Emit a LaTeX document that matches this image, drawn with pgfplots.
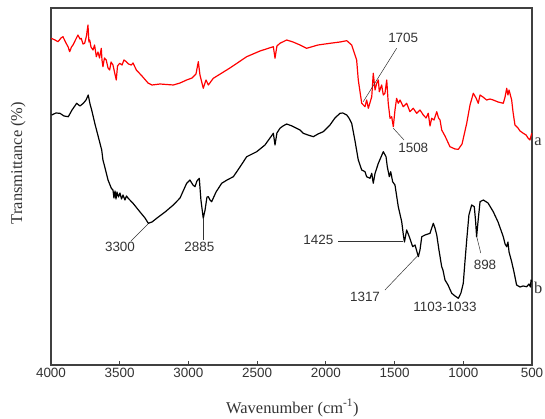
\documentclass[border=0pt]{standalone}
\usepackage{fontspec}
\setmainfont{Liberation Serif}
\setsansfont{Liberation Sans}
\usepackage{pgfplots}
\pgfplotsset{compat=1.18}
\definecolor{axgray}{HTML}{404040}
\definecolor{anngray}{HTML}{333333}
\begin{document}
\begin{tikzpicture}
\path[use as bounding box] (-51bp,-54bp) rectangle (494bp,365bp);
\begin{axis}[
  scale only axis, width=481bp, height=357bp,
  at={(0,0)}, anchor=south west,
  x dir=reverse, xmin=500, xmax=4000, ymin=-365, ymax=-8,
  xtick={500,1000,...,4000}, ytick=\empty,
  tick align=inside, major tick length=4bp,
  xtick pos=bottom,
  axis line style={axgray, line width=1.1pt},
  every tick/.style={axgray, line width=0.9pt},
  /pgf/number format/assume math mode=true,
  /pgf/number format/set thousands separator={},
  xticklabel style={font=\sffamily\fontsize{13.5}{14}\selectfont, text=anngray},
  xlabel={Wavenumber (cm\textsuperscript{-1})},
  ylabel={Transmittance (\%)},
  xlabel style={at={(axis description cs:0.502,-0.12)}, anchor=center, font=\fontsize{16.5}{18}\selectfont, text=anngray},
  ylabel style={at={(axis description cs:-0.068,0.566)}, anchor=center, font=\fontsize{16.5}{18}\selectfont, text=anngray},
  clip=false,
]
% red curve (a)
\addplot[red, line width=1.2pt, line join=round] coordinates {
(3998,-38.3)(3971,-40)(3949,-41.7)(3927,-38)(3913,-36.7)(3891,-43)(3876,-46.7)(3864,-51.7)(3851,-47)(3840,-45)(3822,-40)(3804,-35)(3789,-39)(3780,-38.3)(3767,-44)(3755,-43.3)(3742,-36)(3731,-25)(3724,-42)(3718,-40)(3709,-47)(3694,-50)(3683,-45)(3670,-56.7)(3658,-52)(3647,-58)(3634,-48.3)(3629,-60)(3622,-66.7)(3611,-58)(3598,-60)(3585,-68)(3573,-70)(3563,-62)(3549,-65)(3538,-72)(3525,-80)(3516,-66)(3500,-63.3)(3483,-65)(3469,-60)(3452,-61.7)(3436,-64)(3416,-65)(3403,-63)(3379,-70)(3338,-76)(3294,-83)(3265,-85)(3207,-84)(3110,-85)(3061,-83)(3013,-80)(2974,-78)(2945,-74)(2928,-61.7)(2916,-75)(2892,-88.3)(2872,-80)(2855,-85)(2819,-78.3)(2698,-68)(2576,-56.7)(2479,-51)(2382,-46.7)(2370,-58.3)(2356,-46)(2334,-43.3)(2285,-40)(2239,-42)(2188,-45)(2140,-48.3)(2057,-45)(1970,-43.3)(1897,-42)(1848,-40.7)(1812,-45)(1776,-60)(1764,-80)(1739,-103.3)(1715,-106.7)(1703,-100)(1691,-108.3)(1666,-96.7)(1655,-73.3)(1642,-90)(1630,-83.3)(1618,-80)(1611,-91.7)(1594,-85)(1582,-95)(1570,-93.3)(1557,-80)(1546,-103.3)(1533,-118.3)(1521,-116.7)(1509,-126.7)(1497,-110)(1485,-98.3)(1473,-103.3)(1460,-100)(1437,-106.7)(1412,-103.3)(1388,-111.7)(1364,-108.3)(1339,-113.3)(1315,-110)(1291,-115)(1271,-118)(1255,-113.3)(1242,-126)(1230,-118.3)(1213,-120)(1193,-111.7)(1180,-118)(1169,-120)(1157,-130)(1133,-136)(1097,-146.7)(1060,-149)(1036,-149.3)(1009,-144)(975,-123.3)(951,-105)(927,-93.3)(907,-98)(891,-103.3)(878,-95)(857,-97)(830,-100)(806,-99)(782,-100)(747,-102)(709,-103.3)(696,-97)(684,-88.3)(675,-95)(667,-90)(648,-100)(638,-112)(624,-125)(602,-128)(587,-131)(563,-133.3)(543,-135)(529,-138)(515,-140)(507,-136)(502,-133.3)
};
% black curve (b)
\addplot[black, line width=1.2pt, line join=round] coordinates {
(3995,-115)(3964,-113)(3935,-113.3)(3905,-116)(3874,-116.7)(3847,-110)(3813,-103.3)(3789,-106)(3765,-103.3)(3745,-100)(3729,-95)(3716,-104)(3704,-110)(3680,-124)(3656,-136.7)(3631,-150)(3622,-160)(3609,-166.7)(3585,-180)(3561,-188.3)(3549,-190)(3542,-198)(3534,-191)(3527,-199)(3520,-192)(3509,-197)(3498,-193)(3487,-199)(3476,-195)(3462,-200)(3451,-196)(3438,-198.3)(3403,-203.3)(3352,-212)(3316,-218)(3292,-223.3)(3265,-222)(3231,-218.3)(3170,-212)(3110,-205)(3061,-198)(3013,-183.3)(2989,-180)(2967,-185)(2952,-186.7)(2938,-181)(2921,-178.3)(2909,-200)(2892,-218.3)(2879,-210)(2865,-197)(2855,-196.7)(2843,-200)(2831,-201.7)(2799,-192)(2758,-183.3)(2719,-180)(2673,-176.7)(2625,-167)(2576,-156.7)(2503,-151.7)(2443,-145)(2382,-133.3)(2370,-145)(2356,-133)(2334,-128.3)(2312,-126)(2285,-124)(2246,-126)(2217,-128)(2188,-130)(2164,-133.3)(2130,-135)(2091,-136.7)(2057,-134)(2019,-131.7)(1970,-125)(1934,-118)(1897,-113.3)(1876,-113)(1848,-115)(1832,-118)(1812,-123.3)(1789,-140)(1764,-160)(1739,-170)(1715,-171.7)(1703,-176.7)(1679,-178.3)(1666,-173.3)(1655,-183.3)(1642,-173.3)(1618,-163.3)(1582,-151.7)(1562,-156.7)(1553,-166.7)(1538,-176.7)(1528,-171.7)(1514,-181.7)(1497,-185)(1473,-206.7)(1448,-221.7)(1435,-236)(1428,-242)(1412,-230)(1393,-236.7)(1368,-246.7)(1351,-245)(1327,-256.7)(1315,-250)(1302,-236.7)(1278,-235)(1242,-233.3)(1218,-223.3)(1206,-228)(1193,-235)(1177,-250)(1157,-266.7)(1148,-270)(1133,-280)(1111,-285)(1084,-293.3)(1060,-296)(1036,-298.3)(1017,-293)(1000,-283.3)(988,-262)(975,-240)(959,-215)(939,-205)(920,-206.7)(911,-220)(903,-236.7)(893,-222)(878,-201.7)(854,-200)(820,-203)(782,-211.7)(747,-222)(709,-236.7)(696,-244)(684,-246.7)(675,-242)(667,-252)(648,-261.7)(631,-272)(612,-285)(587,-287)(565,-286)(538,-286.7)(522,-284)(511,-287)(507,-280)(502,-282)
};
% annotation lines
\draw[anngray, line width=0.5pt] (axis cs:3418,-241) -- (axis cs:3294,-224);
\draw[anngray, line width=0.5pt] (axis cs:2890,-240) -- (axis cs:2890,-219);
\draw[anngray, line width=0.5pt] (axis cs:1485,-48.3) -- (axis cs:1728,-101.7);
\draw[anngray, line width=0.5pt] (axis cs:1431,-140) -- (axis cs:1509,-128.3);
\draw[anngray, line width=0.5pt] (axis cs:1909,-241.7) -- (axis cs:1437,-241.7);
\draw[anngray, line width=0.5pt] (axis cs:1570,-290) -- (axis cs:1327,-255);
\draw[anngray, line width=0.5pt] (axis cs:873,-253) -- (axis cs:902,-236.7);
% annotation texts
\begin{scope}[every node/.style={font=\sffamily\fontsize{13.5}{14}\selectfont, text=anngray, inner sep=0pt}]
\node at (axis cs:3498,-246.7) {3300};
\node at (axis cs:2921,-247.3) {2885};
\node at (axis cs:1437,-38.3) {1705};
\node at (axis cs:1364,-148.3) {1508};
\node at (axis cs:2055,-240) {1425};
\node at (axis cs:1715,-296.7) {1317};
\node at (axis cs:1133,-306.7) {1103-1033};
\node at (axis cs:842,-265) {898};
\end{scope}
\node[font=\fontsize{16.5}{18}\selectfont, text=anngray, inner sep=0pt] at (axis cs:456,-141.7) {a};
\node[font=\fontsize{16.5}{18}\selectfont, text=anngray, inner sep=0pt] at (axis cs:454,-288) {b};
\end{axis}
\end{tikzpicture}
\end{document}
